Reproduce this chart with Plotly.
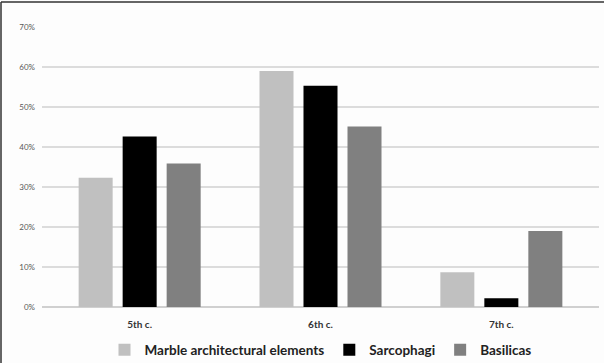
import plotly.graph_objects as go

centuries = ["5th c.", "6th c.", "7th c."]
marble = [0.323, 0.590, 0.087]
sarcophagi = [0.426, 0.553, 0.022]
basilicas = [0.359, 0.451, 0.190]

series = [
    ("Marble architectural elements", marble, "#c0c0c0"),
    ("Sarcophagi", sarcophagi, "#000000"),
    ("Basilicas", basilicas, "#808080"),
]

fig = go.Figure()
for name, vals, color in series:
    fig.add_trace(go.Bar(
        x=centuries, y=vals, name=name,
        marker=dict(color=color, line=dict(color=color, width=0)),
    ))

fig.update_layout(
    width=604, height=363,
    margin=dict(l=42, r=5, t=27, b=56, autoexpand=False),
    paper_bgcolor="#fdfdfd", plot_bgcolor="#fdfdfd",
    barmode="group", bargap=0.27, bargroupgap=0.227,
    font=dict(family="Lato", color="#404040"),
    showlegend=True,
    legend=dict(
        orientation="h", x=0.5, xanchor="center",
        yref="container", y=0.036, yanchor="middle",
        font=dict(family="Lato", size=13.5, color="#222222", weight="bold"),
        itemwidth=30, tracegroupgap=0,
    ),
    xaxis=dict(
        range=[-0.54, 2.54], showgrid=False, showline=False, zeroline=False,
        ticks="", ticklabelstandoff=10,
        tickfont=dict(size=10, color="#333333", weight="bold"),
    ),
    yaxis=dict(
        range=[0, 0.7], dtick=0.1, tickformat=".0%",
        showgrid=True, gridcolor="#dcdcdc", gridwidth=1.5,
        zeroline=True, zerolinecolor="#d0d0d0", zerolinewidth=1.5,
        showline=False, ticks="", ticklabelstandoff=6,
        tickfont=dict(size=8, color="#595959"),
    ),
)

# chart frame along the top and left edges
fig.add_shape(type="line", xref="paper", yref="paper",
              x0=(1 - 42) / 557, x1=(1 - 42) / 557, y0=(307 - 2) / 280, y1=(307 - 363) / 280,
              line=dict(color="#333333", width=1.5))
fig.add_shape(type="line", xref="paper", yref="paper",
              x0=(1 - 42) / 557, x1=(604 - 42) / 557, y0=(307 - 2) / 280, y1=(307 - 2) / 280,
              line=dict(color="#333333", width=1.5))

fig.write_html("out.html")
